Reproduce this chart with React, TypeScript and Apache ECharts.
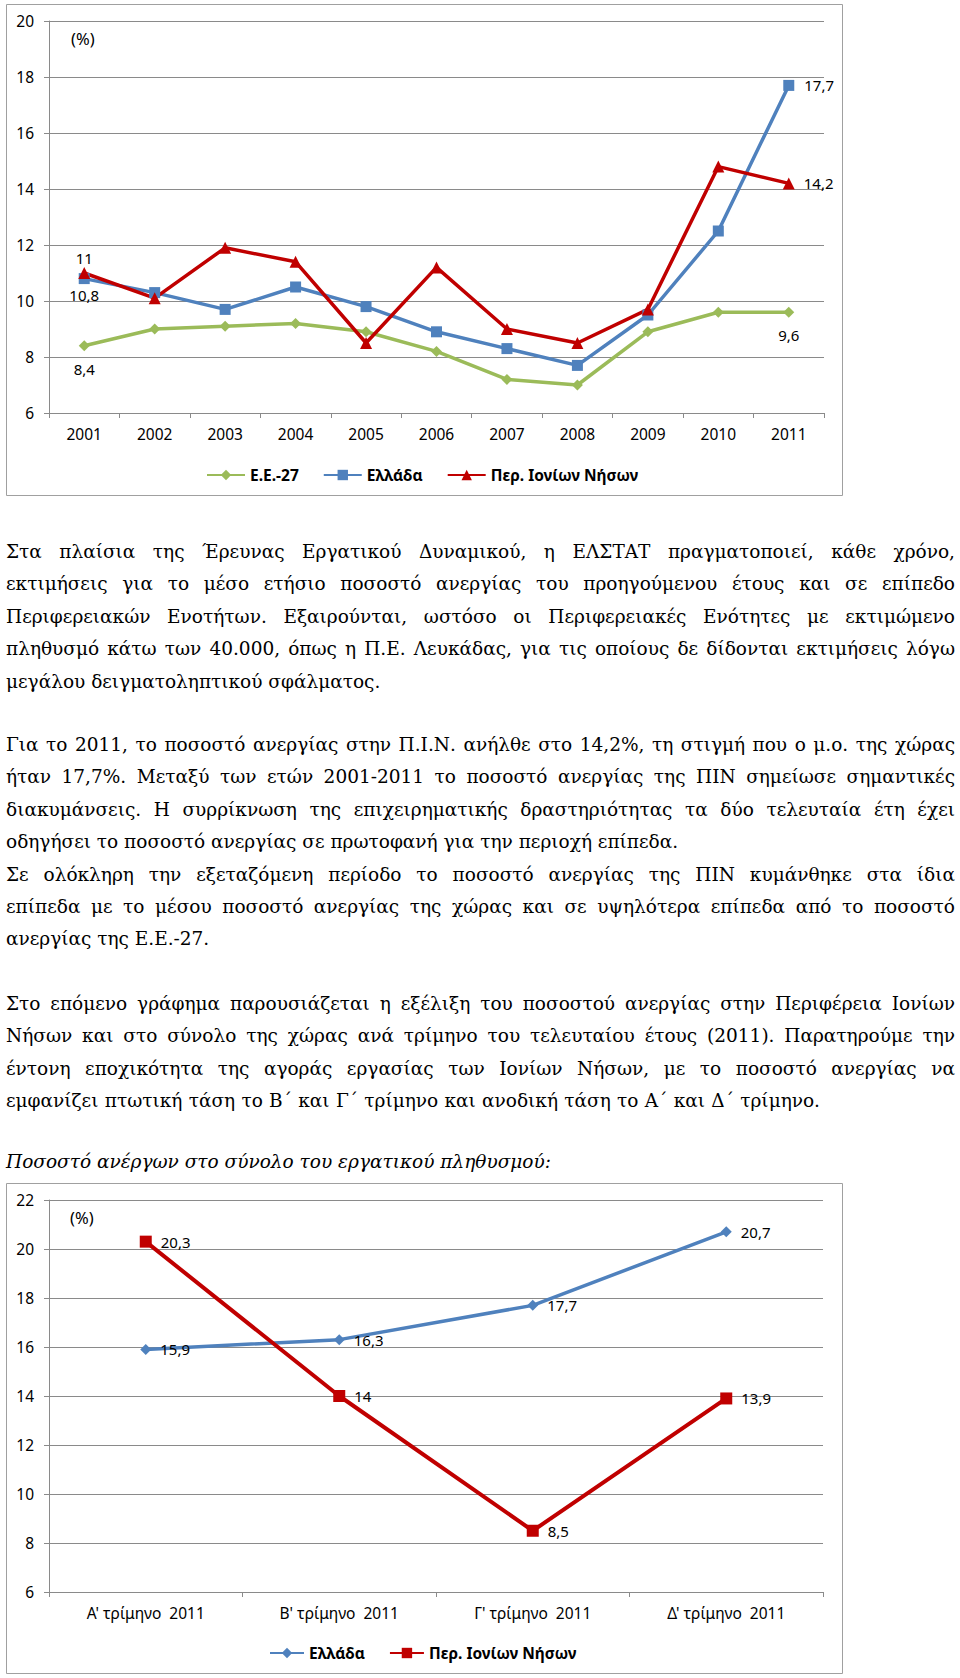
import React, { useEffect, useRef } from "react";
import * as echarts from "echarts";

// ---------- DATA ----------
const years = ["2001", "2002", "2003", "2004", "2005", "2006", "2007", "2008", "2009", "2010", "2011"];
const eu27 = [8.4, 9.0, 9.1, 9.2, 8.9, 8.2, 7.2, 7.0, 8.9, 9.6, 9.6];
const greece = [10.8, 10.3, 9.7, 10.5, 9.8, 8.9, 8.3, 7.7, 9.5, 12.5, 17.7];
const ionian = [11.0, 10.1, 11.9, 11.4, 8.5, 11.2, 9.0, 8.5, 9.7, 14.8, 14.2];
const seriesNames1 = ["Ε.Ε.-27", "Ελλάδα", "Περ. Ιονίων Νήσων"];
const yTicks1 = { min: 6, max: 20, step: 2 };

const quarters = ["Α' τρίμηνο  2011", "Β' τρίμηνο  2011", "Γ' τρίμηνο  2011", "Δ' τρίμηνο  2011"];
const greeceQ = [15.9, 16.3, 17.7, 20.7];
const ionianQ = [20.3, 14, 8.5, 13.9];
const seriesNames2 = ["Ελλάδα", "Περ. Ιονίων Νήσων"];
const yTicks2 = { min: 6, max: 22, step: 2 };

const unitLabel = "(%)";

const para1 = [
  "Στα πλαίσια της Έρευνας Εργατικού Δυναμικού, η ΕΛΣΤΑΤ πραγματοποιεί, κάθε χρόνο,",
  "εκτιμήσεις για το μέσο ετήσιο ποσοστό ανεργίας του προηγούμενου έτους και σε επίπεδο",
  "Περιφερειακών Ενοτήτων. Εξαιρούνται, ωστόσο οι Περιφερειακές Ενότητες με εκτιμώμενο",
  "πληθυσμό κάτω των 40.000, όπως η Π.Ε. Λευκάδας, για τις οποίους δε δίδονται εκτιμήσεις  λόγω",
  "μεγάλου δειγματοληπτικού σφάλματος.",
];
const para2 = [
  "Για το 2011, το ποσοστό ανεργίας στην Π.Ι.Ν. ανήλθε στο 14,2%, τη στιγμή που ο μ.ο. της χώρας",
  "ήταν 17,7%. Μεταξύ των ετών 2001-2011 το ποσοστό ανεργίας της ΠΙΝ σημείωσε σημαντικές",
  "διακυμάνσεις. Η συρρίκνωση της επιχειρηματικής δραστηριότητας τα δύο τελευταία έτη έχει",
  "οδηγήσει το ποσοστό ανεργίας σε πρωτοφανή για την περιοχή επίπεδα.",
  "Σε ολόκληρη την εξεταζόμενη περίοδο το ποσοστό ανεργίας της ΠΙΝ κυμάνθηκε στα ίδια",
  "επίπεδα με το μέσου ποσοστό ανεργίας της χώρας και σε υψηλότερα επίπεδα από το ποσοστό",
  "ανεργίας της Ε.Ε.-27.",
];
const para3 = [
  "Στο επόμενο γράφημα παρουσιάζεται η εξέλιξη του ποσοστού ανεργίας στην Περιφέρεια Ιονίων",
  "Νήσων και στο σύνολο της χώρας ανά τρίμηνο του τελευταίου έτους (2011). Παρατηρούμε την",
  "έντονη εποχικότητα της αγοράς εργασίας των Ιονίων Νήσων, με το ποσοστό ανεργίας να",
  "εμφανίζει πτωτική τάση το Β΄ και Γ΄ τρίμηνο και ανοδική τάση το Α΄ και Δ΄ τρίμηνο.",
];
const caption = "Ποσοστό ανέργων στο σύνολο του εργατικού πληθυσμού:";

// ---------- STYLE ----------
const GREEN = "#9BBB59";
const BLUE = "#4F81BD";
const RED = "#C00000";
const GRID = "#8a8a8a";
const SANS = "'Noto Sans', 'Liberation Sans', sans-serif";
const SERIF = "'DejaVu Serif', 'Liberation Serif', serif";
const FULL_W = 949;

const fmt = (p: any) => String(p.value).replace(".", ",");

function withLabels(values: number[], labels: Record<number, { position: string; distance: number }>) {
  return values.map((v, i) =>
    labels[i]
      ? { value: v, label: { show: true, position: labels[i].position, distance: labels[i].distance } }
      : v
  );
}

const labelText = { color: "#000", fontSize: 15, fontFamily: SANS, formatter: fmt };

function axes(cats: string[], t: { min: number; max: number; step: number }) {
  return {
    xAxis: {
      type: "category",
      data: cats,
      boundaryGap: true,
      axisLine: { lineStyle: { color: GRID, width: 1 } },
      axisTick: { show: true, length: 5, lineStyle: { color: GRID } },
      axisLabel: { color: "#000", fontSize: 15.5, fontFamily: SANS, margin: 13 },
      splitLine: { show: false },
    },
    yAxis: {
      type: "value",
      min: t.min,
      max: t.max,
      interval: t.step,
      axisLine: { show: true, lineStyle: { color: GRID, width: 1 } },
      axisTick: { show: true, length: 5, lineStyle: { color: GRID } },
      axisLabel: { color: "#000", fontSize: 15.5, fontFamily: SANS, margin: 15 },
      splitLine: { show: true, lineStyle: { color: GRID, width: 1 } },
    },
  };
}

const option1: any = {
  animation: false,
  grid: { left: 49, top: 21, right: 136, bottom: 87 },
  ...axes(years, yTicks1),
  legend: {
    left: 201,
    top: 462,
    itemWidth: 38,
    itemHeight: 13,
    itemGap: 24,
    data: seriesNames1,
    textStyle: { color: "#000", fontSize: 15.5, fontWeight: "bold", fontFamily: SANS },
  },
  graphic: [
    {
      type: "rect",
      shape: { x: 6.5, y: 4.5, width: 836, height: 491 },
      style: { fill: "none", stroke: "#a0a0a0", lineWidth: 1 },
    },
    {
      type: "text",
      x: 71,
      y: 38,
      style: { text: unitLabel, fontSize: 16.5, fontFamily: SANS, fill: "#000", verticalAlign: "middle" },
    },
  ],
  series: [
    {
      name: seriesNames1[0],
      type: "line",
      data: withLabels(eu27, { 0: { position: "bottom", distance: 10 }, 10: { position: "bottom", distance: 10 } }),
      symbol: "diamond",
      symbolSize: 11,
      lineStyle: { color: GREEN, width: 3.5 },
      itemStyle: { color: GREEN },
      label: { ...labelText },
    },
    {
      name: seriesNames1[1],
      type: "line",
      data: withLabels(greece, { 0: { position: "bottom", distance: 3 }, 10: { position: "right", distance: 10 } }),
      symbol: "rect",
      symbolSize: 11,
      lineStyle: { color: BLUE, width: 3.5 },
      itemStyle: { color: BLUE },
      label: { ...labelText },
    },
    {
      name: seriesNames1[2],
      type: "line",
      data: withLabels(ionian, { 0: { position: "top", distance: 2 }, 10: { position: "right", distance: 9 } }),
      symbol: "triangle",
      symbolSize: 12,
      lineStyle: { color: RED, width: 3.5 },
      itemStyle: { color: RED },
      label: { ...labelText },
    },
  ],
};

const allRight = (n: number) => {
  const o: Record<number, { position: string; distance: number }> = {};
  for (let i = 0; i < n; i++) o[i] = { position: "right", distance: 9 };
  return o;
};

const option2: any = {
  animation: false,
  grid: { left: 49, top: 22, right: 137, bottom: 86 },
  ...axes(quarters, yTicks2),
  legend: {
    left: 264,
    top: 462,
    itemWidth: 34,
    itemHeight: 13,
    itemGap: 24,
    data: seriesNames2,
    textStyle: { color: "#000", fontSize: 15.5, fontWeight: "bold", fontFamily: SANS },
  },
  graphic: [
    {
      type: "rect",
      shape: { x: 6.5, y: 5.5, width: 836, height: 490 },
      style: { fill: "none", stroke: "#a0a0a0", lineWidth: 1 },
    },
    {
      type: "text",
      x: 70,
      y: 39,
      style: { text: unitLabel, fontSize: 16.5, fontFamily: SANS, fill: "#000", verticalAlign: "middle" },
    },
  ],
  series: [
    {
      name: seriesNames2[0],
      type: "line",
      data: withLabels(greeceQ, allRight(greeceQ.length)),
      symbol: "diamond",
      symbolSize: 11,
      lineStyle: { color: BLUE, width: 3.5 },
      itemStyle: { color: BLUE },
      label: { ...labelText },
    },
    {
      name: seriesNames2[1],
      type: "line",
      data: withLabels(ionianQ, allRight(ionianQ.length)),
      symbol: "rect",
      symbolSize: 12,
      lineStyle: { color: RED, width: 4 },
      itemStyle: { color: RED },
      label: { ...labelText },
    },
  ],
};

function EChart({ option, style }: { option: any; style: React.CSSProperties }) {
  const ref = useRef<HTMLDivElement>(null);
  useEffect(() => {
    if (!ref.current) return;
    const chart = echarts.init(ref.current, undefined, { renderer: "svg" });
    chart.setOption(option);
    return () => chart.dispose();
  }, [option]);
  return <div ref={ref} style={style} />;
}

// lastWidths: index -> width for justified short line; 0 = natural left-aligned
function Para({
  lines,
  top,
  lastWidths,
  italic,
}: {
  lines: string[];
  top: number;
  lastWidths: Record<number, number>;
  italic?: boolean;
}) {
  return (
    <div
      style={{
        position: "absolute",
        left: 6,
        top,
        width: FULL_W,
        fontFamily: SERIF,
        fontSize: 18.5,
        lineHeight: "32.4px",
        color: "#000",
        fontStyle: italic ? "italic" : "normal",
      }}
    >
      {lines.map((t, i) => {
        const w = lastWidths[i];
        const natural = w === 0;
        return (
          <div
            key={i}
            style={{
              width: w !== undefined && w !== 0 ? w : FULL_W,
              textAlign: natural ? "left" : "justify",
              textAlignLast: natural ? "left" : ("justify" as any),
              whiteSpace: "nowrap",
            }}
          >
            {t}
          </div>
        );
      })}
    </div>
  );
}

export default function App() {
  return (
    <div
      style={{
        position: "absolute",
        left: 0,
        top: 0,
        width: 960,
        height: 1678,
        background: "#fff",
        overflow: "hidden",
      }}
    >
      <EChart option={option1} style={{ position: "absolute", left: 0, top: 0, width: 960, height: 500 }} />
      <Para lines={para1} top={536} lastWidths={{ 4: 0 }} />
      <Para lines={para2} top={729} lastWidths={{ 3: 0, 6: 0 }} />
      <Para lines={para3} top={988} lastWidths={{ 3: 814 }} />
      <Para lines={[caption]} top={1146} lastWidths={{ 0: 0 }} italic />
      <EChart option={option2} style={{ position: "absolute", left: 0, top: 1178, width: 960, height: 500 }} />
    </div>
  );
}
